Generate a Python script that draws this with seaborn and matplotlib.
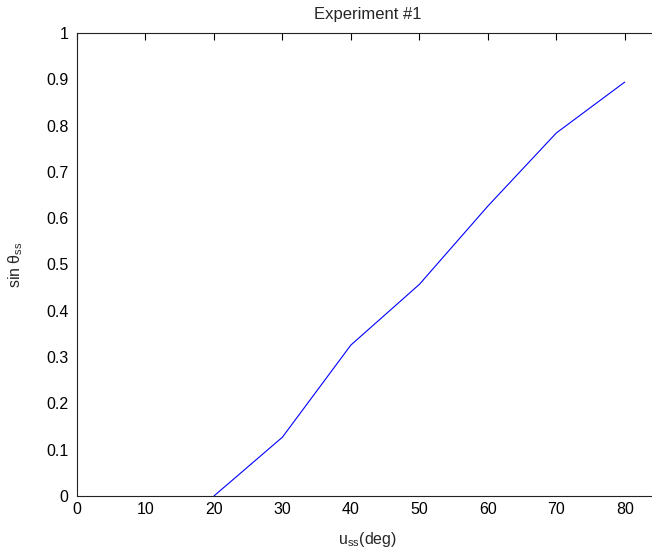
import numpy as np
import pandas as pd
import matplotlib
matplotlib.use("Agg")
import matplotlib.pyplot as plt
import seaborn as sns

# values
u_ss = [20, 30, 40, 50, 60, 70, 80]
sin_theta = [0.0, 0.127, 0.326, 0.457, 0.626, 0.784, 0.894]
x_ticks = [0, 10, 20, 30, 40, 50, 60, 70, 80]
y_ticks = [0, 0.1, 0.2, 0.3, 0.4, 0.5, 0.6, 0.7, 0.8, 0.9, 1]
y_tick_labels = ["0", "0.1", "0.2", "0.3", "0.4", "0.5", "0.6", "0.7", "0.8", "0.9", "1"]

sns.set_style("white")
plt.rcParams["font.family"] = ["Liberation Sans", "DejaVu Sans"]
plt.rcParams["mathtext.fontset"] = "custom"
plt.rcParams["mathtext.rm"] = "Liberation Sans"

df = pd.DataFrame({"u": u_ss, "s": sin_theta})

fig = plt.figure(figsize=(6.52, 5.5), dpi=100)
# axes runs past the right edge of the image, like the cropped original
ax = fig.add_axes([0.1181, 0.0982, 0.8926, 0.8418])
sns.lineplot(data=df, x="u", y="s", ax=ax, color="#0000ff", linewidth=0.8)

ax.set_xlim(0, 85)
ax.set_ylim(0, 1)
ax.set_xticks(x_ticks)
ax.set_yticks(y_ticks)
ax.set_xticklabels([str(t) for t in x_ticks])
ax.set_yticklabels(y_tick_labels)
ax.tick_params(direction="in", length=5, width=0.8, colors="black", labelsize=11.5,
               top=True, right=False)
ax.tick_params(axis="x", pad=4)
ax.tick_params(axis="y", pad=6)
for s in ax.spines.values():
    s.set_color("#222222")
    s.set_linewidth(0.8)
ax.spines["right"].set_visible(False)

ax.set_title("Experiment #1", fontsize=12, y=1.031, pad=0)
ax.set_xlabel(r"u$_{\mathregular{ss}}$(deg)", fontsize=11.5)
ax.xaxis.set_label_coords(0.5, -0.073)
ax.set_ylabel(r"sin θ$_{\mathregular{ss}}$", fontsize=11.5)
ax.yaxis.set_label_coords(-0.089, 0.5)

fig.savefig("out.png", dpi=100)
